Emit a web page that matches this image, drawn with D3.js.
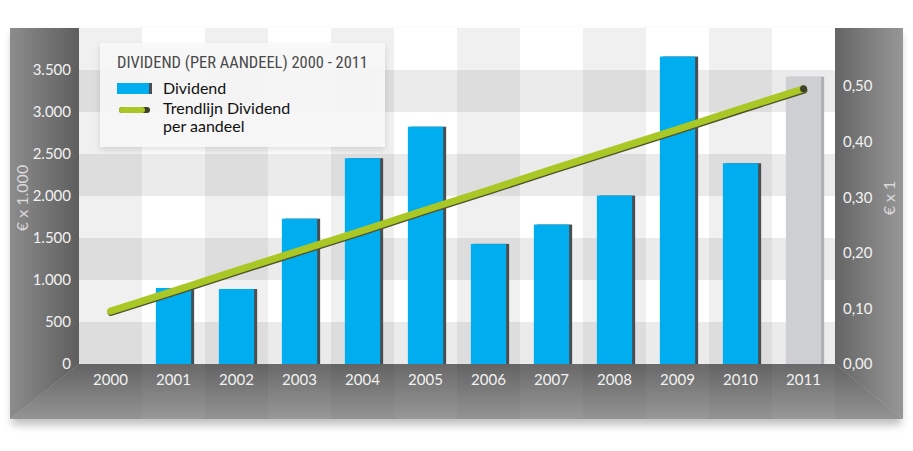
<!DOCTYPE html>
<meta charset="utf-8">
<style>
    body { margin: 0; background: #fff; }
    text { font-family: Lato, "Open Sans", sans-serif; }
    .tick text { font-size: 15px; fill: #f2f2f2; }
    .legend-title { font-family: "Liberation Sans Narrow", "Roboto Condensed", Roboto, sans-serif; font-size: 16.5px; fill: #4a4a4a; }
    .legend-item { font-size: 16px; fill: #111; }
    .unit { font-size: 16px; fill: #dadada; }
</style>
<svg width="913" height="451"></svg>
<script src="https://d3js.org/d3.v7.min.js"></script>
<script>
    var years = ["2000", "2001", "2002", "2003", "2004", "2005", "2006", "2007", "2008", "2009", "2010", "2011"];
    // dividend in € x 1.000
    var dividend = [0, 905, 893, 1730, 2450, 2825, 1430, 1660, 2005, 3660, 2390, 3420];
    // trend of dividend per share, € x 1
    var trend = [0.095, 0.131, 0.168, 0.204, 0.240, 0.277, 0.313, 0.350, 0.386, 0.422, 0.459, 0.495];
    var projected = ["2011"];
    var leftTicks = [0, 500, 1000, 1500, 2000, 2500, 3000, 3500];
    var rightTicks = [0, 0.1, 0.2, 0.3, 0.4, 0.5];

    var svg = d3.select("svg");
    var frame = {left: 10, right: 903, top: 28, bottom: 419};
    var plot = {left: 79, right: 835, top: 28, bottom: 364};

    var nl = d3.formatLocale({decimal: ",", thousands: ".", grouping: [3], currency: ["€", ""]});

    var x = d3.scaleBand().domain(years).range([plot.left, plot.right]);
    var xBar = d3.scaleBand().domain(years).range([plot.left, plot.right]).paddingInner(0.44).paddingOuter(0.22);
    var yL = d3.scaleLinear().domain([0, 4000]).range([plot.bottom, plot.top]);
    var yR = d3.scaleLinear().domain([0, 0.5]).range([plot.bottom, 86]);

    var defs = svg.append("defs");
    var blur = defs.append("filter").attr("id", "shadow").attr("x", "-10%").attr("y", "-10%").attr("width", "120%").attr("height", "130%");
    blur.append("feGaussianBlur").attr("stdDeviation", 4);
    var blur2 = defs.append("filter").attr("id", "soft").attr("x", "-10%").attr("y", "-20%").attr("width", "120%").attr("height", "150%");
    blur2.append("feGaussianBlur").attr("stdDeviation", 3);

    function grad(id, x1, y1, x2, y2, c1, c2) {
        var g = defs.append("linearGradient").attr("id", id)
            .attr("x1", x1).attr("y1", y1).attr("x2", x2).attr("y2", y2);
        g.append("stop").attr("offset", "0%").attr("stop-color", c1);
        g.append("stop").attr("offset", "100%").attr("stop-color", c2);
    }
    grad("gLeft", "0%", "0%", "100%", "0%", "#8c8c8c", "#5e5e5e");
    grad("gRight", "0%", "0%", "100%", "0%", "#646464", "#979797");
    grad("gBottom", "0%", "0%", "0%", "100%", "#636363", "#949494");

    // frame drop shadow
    svg.append("rect")
        .attr("x", frame.left + 2).attr("y", frame.top + 6)
        .attr("width", frame.right - frame.left - 4).attr("height", frame.bottom - frame.top)
        .attr("fill", "#000").attr("opacity", 0.25).attr("filter", "url(#shadow)");

    // plot background with plaid bands
    svg.append("rect")
        .attr("x", plot.left).attr("y", plot.top)
        .attr("width", plot.right - plot.left).attr("height", plot.bottom - plot.top)
        .attr("fill", "#fff");

    svg.append("g").selectAll("rect")
        .data(years.filter(function(d, i) { return i % 2 === 0; }))
        .enter().append("rect")
        .attr("x", function(d) { return x(d); })
        .attr("y", plot.top)
        .attr("width", x.bandwidth())
        .attr("height", plot.bottom - plot.top)
        .attr("fill", "#000").attr("opacity", 0.06);

    svg.append("g").selectAll("rect")
        .data(leftTicks.filter(function(d, i) { return i % 2 === 0; }))
        .enter().append("rect")
        .attr("x", plot.left)
        .attr("y", function(d) { return yL(d + 500); })
        .attr("width", plot.right - plot.left)
        .attr("height", function(d) { return yL(d) - yL(d + 500); })
        .attr("fill", "#000").attr("opacity", 0.08);

    // bevelled side panels
    svg.append("path")
        .attr("d", "M" + frame.left + "," + frame.top + "L" + plot.left + "," + plot.top +
            "L" + plot.left + "," + plot.bottom + "L" + frame.left + "," + frame.bottom + "Z")
        .attr("fill", "url(#gLeft)");
    svg.append("path")
        .attr("d", "M" + plot.right + "," + plot.top + "L" + frame.right + "," + frame.top +
            "L" + frame.right + "," + frame.bottom + "L" + plot.right + "," + plot.bottom + "Z")
        .attr("fill", "url(#gRight)");
    svg.append("path")
        .attr("d", "M" + plot.left + "," + plot.bottom + "L" + plot.right + "," + plot.bottom +
            "L" + frame.right + "," + frame.bottom + "L" + frame.left + "," + frame.bottom + "Z")
        .attr("fill", "url(#gBottom)");

    // faint column stripes in the bottom panel
    svg.append("g").selectAll("rect")
        .data(years.filter(function(d, i) { return i % 2 === 1; }))
        .enter().append("rect")
        .attr("x", function(d) { return x(d); })
        .attr("y", plot.bottom)
        .attr("width", x.bandwidth())
        .attr("height", frame.bottom - plot.bottom)
        .attr("fill", "#fff").attr("opacity", 0.04);

    // bars
    var bars = svg.append("g").selectAll("g")
        .data(years.map(function(d, i) { return {year: d, value: dividend[i]}; }).filter(function(d) { return d.value > 0; }))
        .enter().append("g");

    bars.append("rect")
        .attr("x", function(d) { return xBar(d.year) + 3; })
        .attr("y", function(d) { return yL(d.value); })
        .attr("width", xBar.bandwidth())
        .attr("height", function(d) { return plot.bottom - yL(d.value); })
        .attr("fill", function(d) { return projected.indexOf(d.year) >= 0 ? "#acaeb0" : "#4a4e52"; });

    bars.append("rect")
        .attr("x", function(d) { return xBar(d.year); })
        .attr("y", function(d) { return yL(d.value); })
        .attr("width", xBar.bandwidth())
        .attr("height", function(d) { return plot.bottom - yL(d.value); })
        .attr("fill", function(d) { return projected.indexOf(d.year) >= 0 ? "#cdcfd2" : "#00aeef"; });

    // trend line
    var line = d3.line()
        .x(function(d, i) { return x(years[i]) + x.bandwidth() / 2; })
        .y(function(d) { return yR(d); });

    svg.append("path")
        .attr("d", line(trend))
        .attr("transform", "translate(0.5,1.3)")
        .attr("fill", "none").attr("stroke", "#50532c")
        .attr("stroke-width", 7).attr("stroke-linecap", "round");
    svg.append("path")
        .attr("d", line(trend))
        .attr("fill", "none").attr("stroke", "#a9c826")
        .attr("stroke-width", 7).attr("stroke-linecap", "round");
    svg.append("circle")
        .attr("cx", x(years[years.length - 1]) + x.bandwidth() / 2)
        .attr("cy", yR(trend[trend.length - 1]))
        .attr("r", 3.5).attr("fill", "#3e402a");

    // axes
    var axL = svg.append("g")
        .attr("transform", "translate(" + plot.left + ",0)")
        .call(d3.axisLeft(yL).tickValues(leftTicks).tickSize(0).tickPadding(8).tickFormat(nl.format(",.0f")));
    var axR = svg.append("g")
        .attr("transform", "translate(" + plot.right + ",0)")
        .call(d3.axisRight(yR).tickValues(rightTicks).tickSize(0).tickPadding(8).tickFormat(nl.format(".2f")));
    var axB = svg.append("g")
        .attr("transform", "translate(0," + plot.bottom + ")")
        .call(d3.axisBottom(x).tickSize(0).tickPadding(10));
    [axL, axR, axB].forEach(function(a) {
        a.select(".domain").remove();
        a.attr("font-family", null).attr("font-size", null);
    });

    svg.append("text").attr("class", "unit")
        .attr("transform", "translate(28,198) rotate(-90)")
        .attr("text-anchor", "middle")
        .text("€ x 1.000");
    svg.append("text").attr("class", "unit")
        .attr("transform", "translate(895,198) rotate(-90)")
        .attr("text-anchor", "middle")
        .text("€ x 1");

    // legend
    var lg = svg.append("g");
    lg.append("rect")
        .attr("x", 100).attr("y", 46).attr("width", 285).attr("height", 104)
        .attr("fill", "#000").attr("opacity", 0.12).attr("filter", "url(#soft)");
    lg.append("rect")
        .attr("x", 100).attr("y", 43).attr("width", 285).attr("height", 104)
        .attr("fill", "#fafafa").attr("opacity", 0.9);
    lg.append("text").attr("class", "legend-title")
        .attr("x", 117).attr("y", 68)
        .attr("textLength", 251).attr("lengthAdjust", "spacingAndGlyphs")
        .text("DIVIDEND (PER AANDEEL) 2000 - 2011");

    lg.append("rect").attr("x", 117).attr("y", 83).attr("width", 35).attr("height", 11).attr("fill", "#4a4e52");
    lg.append("rect").attr("x", 117).attr("y", 83).attr("width", 32).attr("height", 11).attr("fill", "#00aeef");
    lg.append("text").attr("class", "legend-item").attr("x", 163).attr("y", 94).text("Dividend");

    lg.append("line").attr("x1", 122).attr("x2", 147).attr("y1", 110).attr("y2", 110)
        .attr("stroke", "#3e402a").attr("stroke-width", 6).attr("stroke-linecap", "round");
    lg.append("line").attr("x1", 122).attr("x2", 142).attr("y1", 110).attr("y2", 110)
        .attr("stroke", "#a9c826").attr("stroke-width", 6).attr("stroke-linecap", "round");
    lg.append("text").attr("class", "legend-item").attr("x", 163).attr("y", 114).text("Trendlijn Dividend");
    lg.append("text").attr("class", "legend-item").attr("x", 163).attr("y", 132).text("per aandeel");
</script>
